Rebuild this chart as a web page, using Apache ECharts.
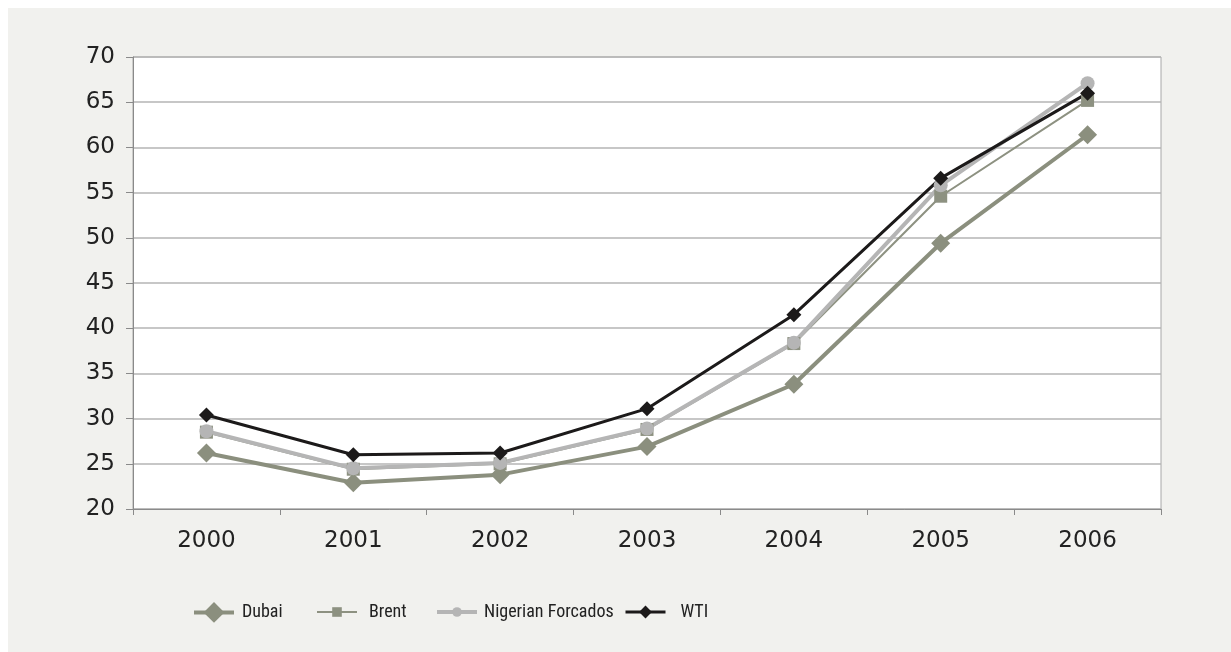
<!DOCTYPE html>
<html>
<head>
<meta charset="utf-8">
<script src="https://cdn.jsdelivr.net/npm/echarts@6/dist/echarts.min.js"></script>
<style>
  html, body { margin: 0; padding: 0; background: #ffffff; }
  #chart { width: 1231px; height: 652px; }
</style>
</head>
<body>
<div id="chart"></div>
<script>
// oil price, USD per barrel
const years = ['2000', '2001', '2002', '2003', '2004', '2005', '2006'];
const dubai = [26.2, 22.9, 23.8, 26.9, 33.8, 49.4, 61.4];
const brent = [28.5, 24.4, 25.0, 28.8, 38.3, 54.6, 65.2];
const nigerian = [28.6, 24.5, 25.1, 28.9, 38.4, 55.8, 67.1];
const wti = [30.4, 26.0, 26.2, 31.1, 41.5, 56.6, 66.0];

const chart = echarts.init(document.getElementById('chart'));

const axisFont = {
  fontFamily: '"DejaVu Sans", sans-serif',
  fontSize: 23,
  color: '#222222'
};

// one legend per series so each can have its own symbol size
function legendFor(name, left, top, h, lw, gap) {
  return {
    data: [name],
    left: left,
    top: top,
    padding: 0,
    itemWidth: 40,
    itemHeight: h,
    selectedMode: false,
    lineStyle: {width: lw},
    textStyle: {
      fontFamily: '"Roboto Condensed", "Liberation Sans", sans-serif',
      fontSize: 18,
      color: '#222222',
      padding: [0, 0, 0, gap]
    }
  };
}

const option = {
  backgroundColor: '#ffffff',
  animation: false,
  graphic: [
    {
      type: 'rect',
      z: -10,
      shape: {x: 8, y: 8, width: 1223, height: 644},
      style: {fill: '#f1f1ee'}
    }
  ],
  grid: {
    left: 133,
    top: 57,
    right: 70,
    bottom: 143,
    show: true,
    backgroundColor: '#ffffff',
    borderColor: '#a8a8a8',
    borderWidth: 1
  },
  legend: [
    legendFor('Dubai', 192, 602, 26, 4, 3),
    legendFor('Brent', 316, 603, 12, 2, 7),
    legendFor('Nigerian Forcados', 435, 603, 12, 4, 2),
    legendFor('WTI', 624, 603, 16, 3, 10)
  ],
  xAxis: {
    type: 'category',
    data: years,
    boundaryGap: true,
    axisLine: {lineStyle: {color: '#8a8a8a', width: 1}},
    axisTick: {show: true, length: 6, lineStyle: {color: '#8a8a8a'}},
    axisLabel: Object.assign({margin: 21}, axisFont),
    splitLine: {show: false}
  },
  yAxis: {
    type: 'value',
    min: 20,
    max: 70,
    interval: 5,
    axisLine: {show: true, lineStyle: {color: '#8a8a8a', width: 1}},
    axisTick: {show: true, length: 7, lineStyle: {color: '#8a8a8a'}},
    axisLabel: Object.assign({margin: 18}, axisFont),
    splitLine: {show: true, lineStyle: {color: '#b4b4b4', width: 1.5}}
  },
  series: [
    {
      name: 'Dubai',
      type: 'line',
      data: dubai,
      symbol: 'diamond',
      symbolSize: 19,
      color: '#8b8f7e',
      lineStyle: {width: 4, color: '#8b8f7e'},
      itemStyle: {color: '#8b8f7e'}
    },
    {
      name: 'Brent',
      type: 'line',
      data: brent,
      symbol: 'rect',
      symbolSize: 13,
      color: '#8d9181',
      lineStyle: {width: 2, color: '#8d9181'},
      itemStyle: {color: '#8d9181'}
    },
    {
      name: 'Nigerian Forcados',
      type: 'line',
      data: nigerian,
      symbol: 'circle',
      symbolSize: 14,
      color: '#b5b5b5',
      lineStyle: {width: 4, color: '#b5b5b5'},
      itemStyle: {color: '#b5b5b5'}
    },
    {
      name: 'WTI',
      type: 'line',
      data: wti,
      symbol: 'diamond',
      symbolSize: 15,
      color: '#1c1a1a',
      lineStyle: {width: 3, color: '#1c1a1a'},
      itemStyle: {color: '#1c1a1a'}
    }
  ]
};

chart.setOption(option);
</script>
</body>
</html>
